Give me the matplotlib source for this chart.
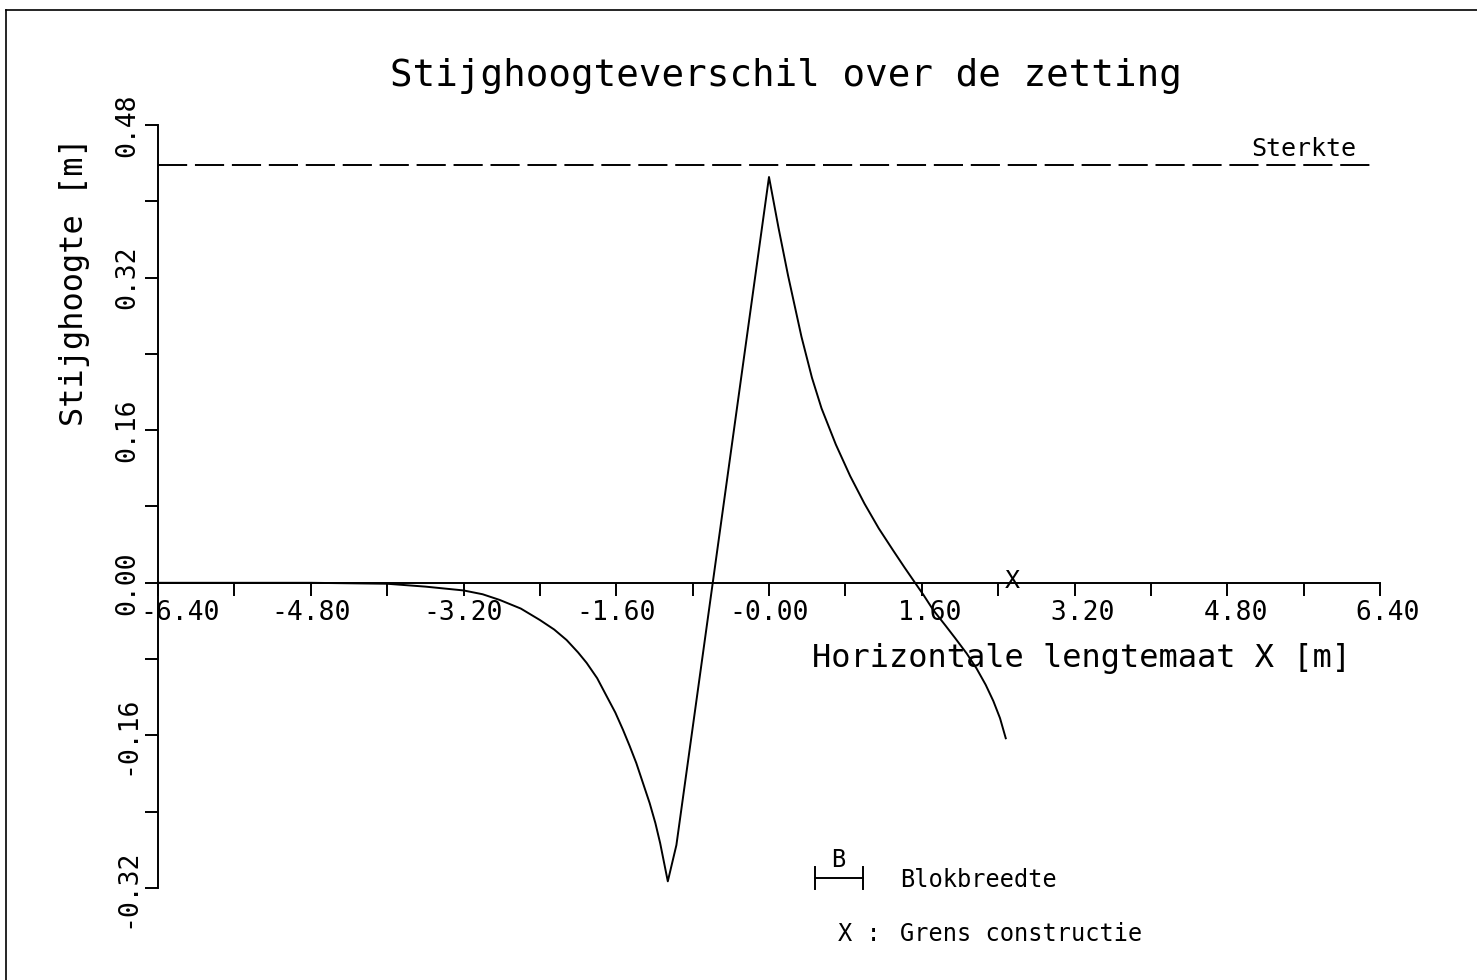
import numpy as np
import matplotlib
matplotlib.use('Agg')
from matplotlib import pyplot as plt
from matplotlib.lines import Line2D
from matplotlib.transforms import ScaledTranslation

# curve
curve_x = [-6.40, -4.80, -4.40, -4.00, -3.60, -3.20, -3.00, -2.82, -2.60, -2.40,
           -2.25, -2.12, -2.00, -1.91, -1.80, -1.70, -1.61, -1.53, -1.46, -1.39,
           -1.32, -1.25, -1.19, -1.14, -1.10, -1.06, -0.97, 0.00, 0.10, 0.20,
           0.34, 0.45, 0.55, 0.70, 0.85, 1.00, 1.15, 1.30, 1.42, 1.53,
           1.62, 1.72, 1.85, 1.95, 2.07, 2.175, 2.27, 2.35, 2.42, 2.48]
curve_y = [0.0, 0.0, -0.0005, -0.001, -0.004, -0.008, -0.012, -0.018, -0.027, -0.039,
           -0.049, -0.060, -0.073, -0.084, -0.100, -0.119, -0.136, -0.154, -0.171, -0.189,
           -0.210, -0.231, -0.252, -0.273, -0.293, -0.313, -0.275, 0.4255, 0.372, 0.322,
           0.258, 0.215, 0.183, 0.145, 0.112, 0.083, 0.057, 0.034, 0.016, 0.0,
           -0.013, -0.0285, -0.045, -0.058, -0.074, -0.090, -0.107, -0.124, -0.142, -0.163]

sterkte = 0.438
grens_x = 2.55
blok_x = [0.48, 0.98]

xticks = [-6.4, -4.8, -3.2, -1.6, 0.0, 1.6, 3.2, 4.8, 6.4]
xticklabels = ['-6.40', '-4.80', '-3.20', '-1.60', '-0.00', ' 1.60', ' 3.20', ' 4.80', ' 6.40']
yticks = [-0.32, -0.16, 0.0, 0.16, 0.32, 0.48]
yticklabels = ['-0.32', '-0.16', '0.00', '0.16', '0.32', '0.48']

plt.rcParams['font.family'] = ['DejaVu Sans Mono']

fig = plt.figure(figsize=(14.77, 9.80), dpi=100)
ax = fig.add_axes([158 / 1477, 1 - 888 / 980, 1222 / 1477, 763 / 980])

lw = 1.4
ax.plot(curve_x, curve_y, color='black', lw=lw)
ax.plot([-6.4, 6.32], [sterkte, sterkte], color='black', lw=lw, linestyle=(0, (15, 4)))
ax.text(5.6, sterkte + 0.004, 'Sterkte', ha='center', va='bottom', fontsize=18)
ax.text(grens_x, 0.002, 'X', ha='center', va='center', fontsize=18)

ax.set_xlim(-6.4, 6.4)
ax.set_ylim(-0.32, 0.48)
ax.spines['top'].set_visible(False)
ax.spines['right'].set_visible(False)
ax.spines['bottom'].set_position(('data', 0))
ax.spines['bottom'].set_linewidth(lw)
ax.spines['left'].set_linewidth(lw)

ax.set_xticks(xticks)
ax.set_xticklabels(xticklabels)
ax.set_xticks(np.arange(-5.6, 6.4, 1.6), minor=True)
ax.set_yticks(yticks)
ax.set_yticklabels(yticklabels, rotation=90, va='center')
ax.set_yticks(np.arange(-0.24, 0.48, 0.16), minor=True)
ax.tick_params(which='both', direction='out', length=9.5, width=lw, labelsize=19, pad=3)

# first x label sits to the right of the y axis
lab0 = ax.get_xticklabels()[0]
lab0.set_transform(lab0.get_transform() + ScaledTranslation(0.22, 0, fig.dpi_scale_trans))

# legend block
yb = -0.3095
ax.plot(blok_x, [yb, yb], color='black', lw=lw, clip_on=False)
for xb in blok_x:
    ax.plot([xb, xb], [yb - 0.012, yb + 0.012], color='black', lw=lw, clip_on=False)
ax.text(sum(blok_x) / 2, yb + 0.006, 'B', ha='center', va='bottom', fontsize=17)
ax.text(1.37, yb - 0.002, 'Blokbreedte', ha='left', va='center', fontsize=17)
ax.text(0.72, -0.3685, 'X :', ha='left', va='center', fontsize=17)
ax.text(1.37, -0.3685, 'Grens constructie', ha='left', va='center', fontsize=17)

fig.text(786 / 1477, 1 - 76 / 980, 'Stijghoogteverschil over de zetting',
         ha='center', va='center', fontsize=27)
fig.text(75 / 1477, 1 - 282 / 980, 'Stijghoogte [m]', rotation=90,
         ha='center', va='center', fontsize=23)
fig.text(1081 / 1477, 1 - 658 / 980, 'Horizontale lengtemaat X [m]',
         ha='center', va='center', fontsize=23)

# page frame (top and left)
fig.add_artist(Line2D([6 / 1477, 1], [1 - 10 / 980, 1 - 10 / 980], color='black', lw=1.2))
fig.add_artist(Line2D([6 / 1477, 6 / 1477], [0, 1 - 10 / 980], color='black', lw=1.2))

fig.savefig('out.png', dpi=100)
